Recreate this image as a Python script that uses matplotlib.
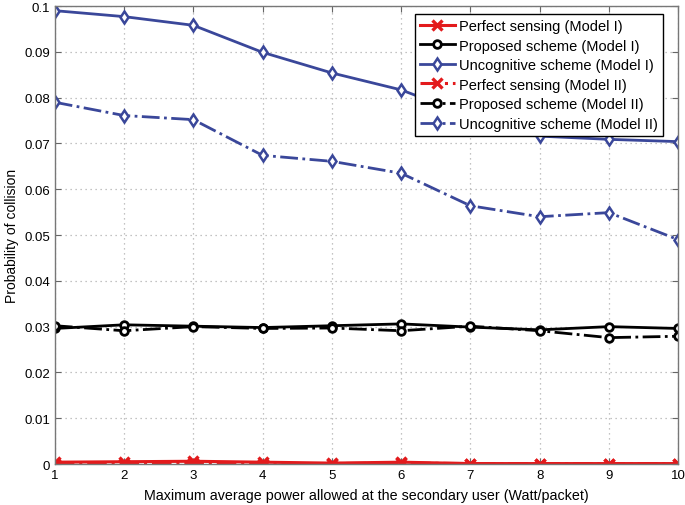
import matplotlib
matplotlib.use("Agg")
import matplotlib.pyplot as plt

x = [1, 2, 3, 4, 5, 6, 7, 8, 9, 10]
perfect_m1 = [0.0004, 0.0005, 0.0006, 0.0004, 0.0002, 0.0004, 0.0001, 0.0001, 0.0001, 0.0001]
proposed_m1 = [0.0296, 0.0304, 0.0301, 0.0298, 0.0302, 0.0306, 0.0299, 0.0293, 0.0300, 0.0296]
uncog_m1 = [0.0990, 0.0977, 0.0958, 0.0899, 0.0854, 0.0817, 0.0760, 0.0716, 0.0709, 0.0704]
perfect_m2 = [0.0001, 0.0001, 0.0002, 0.0001, 0.0001, 0.0002, 0.0001, 0.0001, 0.0001, 0.0001]
proposed_m2 = [0.0302, 0.0291, 0.0300, 0.0296, 0.0297, 0.0291, 0.0301, 0.0291, 0.0276, 0.0279]
uncog_m2 = [0.0790, 0.0761, 0.0752, 0.0674, 0.0661, 0.0635, 0.0564, 0.0540, 0.0549, 0.0490]

labels = ["Perfect sensing (Model I)", "Proposed scheme (Model I)",
          "Uncognitive scheme (Model I)", "Perfect sensing (Model II)",
          "Proposed scheme (Model II)", "Uncognitive scheme (Model II)"]

plt.rcParams['font.family'] = ['Liberation Sans', 'DejaVu Sans']

fig = plt.figure(figsize=(6.85, 5.06), dpi=100)
ax = fig.add_axes([0.080, 0.081, 0.910, 0.905])

red = '#e31a1c'
blue = '#3a479a'
black = '#000000'

ax.plot(x, perfect_m1, '-', color=red, lw=2.2, marker='x', ms=7, mew=2.4, label=labels[0])
ax.plot(x, proposed_m1, '-', color=black, lw=2, marker='o', ms=5.5, mew=2, mfc='white', label=labels[1])
ax.plot(x, uncog_m1, '-', color=blue, lw=2, marker='d', ms=6.5, mew=1.8, mfc='white', label=labels[2])
ax.plot(x, perfect_m2, '-.', color=red, lw=2.2, marker='x', ms=7, mew=2.4, label=labels[3])
ax.plot(x, proposed_m2, '-.', color=black, lw=2, marker='o', ms=5.5, mew=2, mfc='white', label=labels[4])
ax.plot(x, uncog_m2, '-.', color=blue, lw=2, marker='d', ms=6.5, mew=1.8, mfc='white', label=labels[5])

ax.set_xlim(1, 10)
ax.set_ylim(0, 0.1)
ax.set_xticks(x)
ax.set_xticklabels([str(v) for v in x])
yt = [0, 0.01, 0.02, 0.03, 0.04, 0.05, 0.06, 0.07, 0.08, 0.09, 0.1]
ax.set_yticks(yt)
ax.set_yticklabels(['0', '0.01', '0.02', '0.03', '0.04', '0.05', '0.06', '0.07', '0.08', '0.09', '0.1'])
ax.tick_params(direction='in', top=True, right=True, labelsize=9.5, length=4, color='#666666')
ax.grid(True, linestyle=(0, (1, 3)), color='#b0b0b0', linewidth=0.9)
for s in ax.spines.values():
    s.set_color('#777777')
    s.set_linewidth(1.0)

ax.set_xlabel('Maximum average power allowed at the secondary user (Watt/packet)', fontsize=10.3, labelpad=5)
ax.set_ylabel('Probability of collision', fontsize=10)

leg = ax.legend(loc='upper right', bbox_to_anchor=(0.976, 0.983), fontsize=10.5, frameon=True,
                fancybox=False, edgecolor='black', framealpha=1, handlelength=2.4,
                borderpad=0.35, labelspacing=0.38, handletextpad=0.3, borderaxespad=0.0)
leg.get_frame().set_linewidth(1.0)

fig.savefig('out.png', dpi=100)
